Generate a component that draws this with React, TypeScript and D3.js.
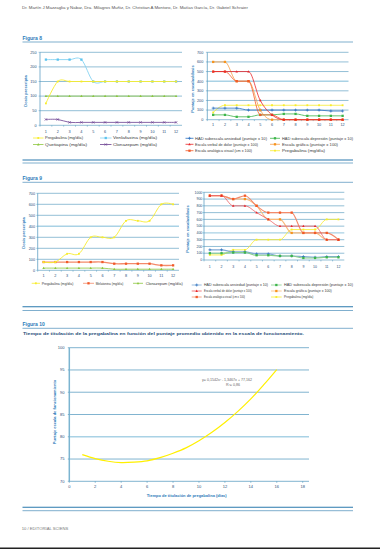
import React from 'react';
import * as d3 from 'd3';

// ---------- DATA ----------
const days = ['1', '2', '3', '4', '5', '6', '7', '8', '9', '10', '11', '12'];

// Figura 8 (left) - dosis prescripta
const f8DoseTicks = [0, 50, 100, 150, 200, 250];
const f8Pregabalina = [75, 150, 150, 150, 150, 150, 150, 150, 150, 150, 150, 150];
const f8Venlafaxina = [225, 225, 225, 225, 150, 150, 150, 150, 150, 150, 150, 150];
const f8Quetiapina = [100, 100, 100, 100, 100, 100, 100, 100, 100, 100, 100, 100];
const f8Clonazepam = [20, 20, 10, 10, 10, 10, 10, 10, 10, 10, 10, 10];

// Figura 8 (right) - puntaje en escalas/dosis
const f8ScoreTicks = [0, 100, 200, 300, 400, 500, 600, 700];
const f8HadAnsiedad = [120, 120, 120, 100, 100, 100, 100, 100, 100, 100, 90, 90];
const f8HadDepresion = [50, 50, 30, 30, 50, 50, 60, 60, 40, 40, 40, 40];
const f8EscalaVerbal = [500, 500, 500, 500, 200, 50, 0, 0, 0, 0, 0, 0];
const f8EscalaGrafica = [600, 600, 400, 400, 100, 0, 0, 0, 0, 0, 0, 0];
const f8EscalaAnalogica = [500, 500, 400, 400, 50, 50, 0, 0, 0, 0, 0, 0];
const f8PregabalinaScore = [75, 150, 150, 150, 150, 150, 150, 150, 150, 150, 150, 150];

// Figura 9 (left)
const f9DoseTicks = [0, 100, 200, 300, 400, 500, 600, 700];
const f9Pregabalina = [75, 75, 150, 150, 300, 300, 300, 450, 450, 450, 600, 600];
const f9Melatonina = [75, 75, 75, 75, 75, 75, 60, 60, 60, 60, 45, 45];
const f9Clonazepam = [20, 20, 20, 20, 20, 20, 10, 10, 10, 10, 10, 10];

// Figura 9 (right)
const f9ScoreTicks = [0, 100, 200, 300, 400, 500, 600, 700, 800, 900, 1000];
const f9HadAnsiedad = [150, 150, 120, 120, 90, 90, 60, 60, 50, 40, 50, 50];
const f9HadDepresion = [100, 100, 110, 110, 70, 70, 60, 60, 30, 30, 40, 40];
const f9EscalaVerbal = [950, 950, 800, 800, 700, 600, 500, 500, 500, 500, 300, 300];
const f9EscalaGrafica = [950, 950, 900, 900, 800, 600, 600, 400, 400, 400, 300, 300];
const f9EscalaAnalogica = [950, 950, 900, 950, 800, 700, 700, 700, 400, 400, 400, 300];
const f9PregabalinaScore = [75, 75, 150, 150, 300, 300, 300, 450, 450, 450, 600, 600];

// Figura 10
const f10Days = [1, 2, 3, 4, 5, 6, 7, 8, 9, 10, 11, 12, 13, 14, 15, 16];
const f10Score = [76.0, 75.1, 74.5, 74.2, 74.3, 74.6, 75.3, 76.3, 77.5, 79.1, 81.0, 83.2, 85.7, 88.5, 91.7, 95.1];
const f10XTicks = [0, 2, 4, 6, 8, 10, 12, 14, 16, 18];
const f10YTicks = [70, 75, 80, 85, 90, 95, 100];

// ---------- STYLE ----------
const FONT = "'Liberation Sans', Arial, sans-serif";
const GRID = '#4a93bb';
const LIGHT = '#a9d2e5';
const TXT = '#1f4e79';
const BLUE = '#2b7bb9';

const C = {
  yellow: '#f7ec2c',
  lightBlue: '#86d3f2',
  lightBlueMk: '#5cc3ee',
  quet: '#8dc63f',
  purple: '#6a3d8f',
  blue: '#2a6fbf',
  green: '#3db54a',
  red: '#e8262a',
  orange: '#f7a04a',
  orangeMk: '#f7941d',
  redOrange: '#f15a29',
  redOrangeLine: '#f48a6a',
};

type Kind = 'plus' | 'square' | 'triangle' | 'x' | 'dot';
type Series = { name: string; values: number[]; line: string; mark: string; kind: Kind; lw?: number };

function markerPath(kind: Kind, s: number) {
  switch (kind) {
    case 'square': return `M${-s},${-s}h${2 * s}v${2 * s}h${-2 * s}z`;
    case 'triangle': return `M0,${-s * 1.2}L${s * 1.1},${s * 0.8}L${-s * 1.1},${s * 0.8}z`;
    case 'plus': return `M${-s * 1.3},0H${s * 1.3}M0,${-s * 1.3}V${s * 1.3}`;
    case 'x': return `M${-s},${-s}L${s},${s}M${-s},${s}L${s},${-s}`;
    default: return `M${-s * 0.8},${-s * 0.8}h${1.6 * s}v${1.6 * s}h${-1.6 * s}z`;
  }
}

function Marker({ kind, x, y, color }: { kind: Kind; x: number; y: number; color: string }) {
  const stroked = kind === 'plus' || kind === 'x';
  return (
    <path
      d={markerPath(kind, 1.15)}
      transform={`translate(${x},${y})`}
      fill={stroked ? 'none' : color}
      stroke={stroked ? color : 'none'}
      strokeWidth={stroked ? 0.7 : 0}
    />
  );
}

type Box = { x0: number; x1: number; yb: number; yt: number };

function LineChart(props: {
  box: Box; ticks: number[]; series: Series[]; labelRight: number; xLabelY: number;
  title: string; titleX: number; titleCy: number; highlight?: number; fs?: number; curve?: d3.CurveFactory;
}) {
  const { box, ticks, series, labelRight, xLabelY, title, titleX, titleCy, highlight } = props;
  const fs = props.fs ?? 3.8;
  const y = d3.scaleLinear().domain([ticks[0], ticks[ticks.length - 1]]).range([box.yb, box.yt]);
  const x = d3.scaleBand().domain(days).range([box.x0, box.x1]);
  const cx = (d: string) => (x(d) as number) + x.bandwidth() / 2;
  const line = d3.line<number>().x((_, i) => cx(days[i])).y((v) => y(v))
    .curve(props.curve ?? d3.curveCatmullRom.alpha(0));
  return (
    <g>
      {ticks.slice(1).map((t) => (
        <line key={t} x1={box.x0} x2={box.x1} y1={y(t)} y2={y(t)}
          stroke={t === highlight ? LIGHT : GRID} strokeWidth={t === highlight ? 1.4 : 0.6} />
      ))}
      <line x1={box.x0} x2={box.x1} y1={y(ticks[0])} y2={y(ticks[0])} stroke={GRID} strokeWidth={0.6} />
      {days.map((d) => (
        <line key={d} x1={x(d) as number} x2={x(d) as number} y1={box.yb} y2={box.yb + 1.4} stroke={GRID} strokeWidth={0.5} />
      ))}
      <line x1={box.x0} x2={box.x0} y1={box.yt} y2={box.yb} stroke={GRID} strokeWidth={0.7} />
      {ticks.map((t) => (
        <g key={t}>
          <line x1={box.x0 - 1.4} x2={box.x0} y1={y(t)} y2={y(t)} stroke={GRID} strokeWidth={0.5} />
          <text x={labelRight} y={y(t)} dy="0.35em" textAnchor="end" fontSize={fs} fill={TXT} fontFamily={FONT}>{t}</text>
        </g>
      ))}
      {days.map((d) => (
        <text key={d} x={cx(d)} y={xLabelY} dy="0.35em" textAnchor="middle" fontSize={fs} fill={TXT} fontFamily={FONT}>{d}</text>
      ))}
      <text transform={`translate(${titleX},${titleCy}) rotate(-90)`} textAnchor="middle" dy="0.35em"
        fontSize={4} fontWeight="bold" fill={BLUE} fontFamily={FONT}>{title}</text>
      {series.map((s) => (
        <g key={s.name}>
          <path d={line(s.values) as string} fill="none" stroke={s.line} strokeWidth={s.lw ?? 0.8} />
          {s.values.map((v, i) => <Marker key={i} kind={s.kind} x={cx(days[i])} y={y(v)} color={s.mark} />)}
        </g>
      ))}
    </g>
  );
}

type LegendItem = { s: Series; lx: number; lw: number; y: number; tx: number; tl: number };
function Legend({ items, fs }: { items: LegendItem[]; fs: number }) {
  return (
    <g>
      {items.map((it) => (
        <g key={it.s.name}>
          <line x1={it.lx} x2={it.lx + it.lw} y1={it.y} y2={it.y} stroke={it.s.line} strokeWidth={0.8} />
          <Marker kind={it.s.kind} x={it.lx + it.lw / 2} y={it.y} color={it.s.mark} />
          <text x={it.tx} y={it.y} dy="0.35em" fontSize={fs} fill="#3a3a3a" fontFamily={FONT}
            textLength={it.tl} lengthAdjust="spacingAndGlyphs">{it.s.name}</text>
        </g>
      ))}
    </g>
  );
}

export default function App() {
  // Figura 8 series
  const s8p: Series = { name: 'Pregabalina (mg/día)', values: f8Pregabalina, line: C.yellow, mark: C.yellow, kind: 'dot', lw: 0.9 };
  const s8v: Series = { name: 'Venlafaxina (mg/día)', values: f8Venlafaxina, line: C.lightBlue, mark: C.lightBlueMk, kind: 'square', lw: 0.9 };
  const s8q: Series = { name: 'Quetiapina (mg/día)', values: f8Quetiapina, line: C.quet, mark: C.quet, kind: 'triangle' };
  const s8c: Series = { name: 'Clonazepam (mg/día)', values: f8Clonazepam, line: C.purple, mark: C.purple, kind: 'x' };

  const r8a: Series = { name: 'HAD subescala ansiedad (puntaje x 10)', values: f8HadAnsiedad, line: C.blue, mark: C.blue, kind: 'plus' };
  const r8d: Series = { name: 'HAD subescala depresión (puntaje x 10)', values: f8HadDepresion, line: C.green, mark: C.green, kind: 'square' };
  const r8v: Series = { name: 'Escala verbal de dolor (puntaje x 100)', values: f8EscalaVerbal, line: C.red, mark: C.red, kind: 'triangle' };
  const r8g: Series = { name: 'Escala gráfica (puntaje x 100)', values: f8EscalaGrafica, line: C.orange, mark: C.orangeMk, kind: 'square' };
  const r8an: Series = { name: 'Escala analógica visual (cm x 100)', values: f8EscalaAnalogica, line: C.redOrange, mark: C.redOrange, kind: 'square' };
  const r8p: Series = { name: 'Pregabalina (mg/día)', values: f8PregabalinaScore, line: C.yellow, mark: C.yellow, kind: 'dot' };

  // Figura 9 series
  const s9p: Series = { name: 'Pregabalina (mg/día)', values: f9Pregabalina, line: C.yellow, mark: C.yellow, kind: 'dot', lw: 0.9 };
  const s9m: Series = { name: 'Melatonina (mg/día)', values: f9Melatonina, line: C.redOrangeLine, mark: C.redOrange, kind: 'square', lw: 1.3 };
  const s9c: Series = { name: 'Clonazepam (mg/día)', values: f9Clonazepam, line: C.quet, mark: C.quet, kind: 'triangle' };

  const r9a: Series = { name: 'HAD subescala ansiedad (puntaje x 10)', values: f9HadAnsiedad, line: '#7fa9d6', mark: C.blue, kind: 'plus', lw: 1.1 };
  const r9d: Series = { name: 'HAD subescala depresión (puntaje x 10)', values: f9HadDepresion, line: '#86cf8c', mark: C.green, kind: 'square', lw: 1.1 };
  const r9v: Series = { name: 'Escala verbal de dolor (puntaje x 100)', values: f9EscalaVerbal, line: '#ec5b5e', mark: C.red, kind: 'triangle' };
  const r9g: Series = { name: 'Escala gráfica (puntaje x 100)', values: f9EscalaGrafica, line: '#f9bb7c', mark: C.orangeMk, kind: 'square', lw: 1.1 };
  const r9an: Series = { name: 'Escala analógica visual (cm x 100)', values: f9EscalaAnalogica, line: C.redOrangeLine, mark: C.redOrange, kind: 'square', lw: 1.1 };
  const r9p: Series = { name: 'Pregabalina (mg/día)', values: f9PregabalinaScore, line: C.yellow, mark: C.yellow, kind: 'dot' };

  // Figura 10 scales
  const fx = d3.scaleLinear().domain([0, 18]).range([69.3, 302.7]);
  const fy = d3.scaleLinear().domain([70, 100]).range([481.3, 347.7]);
  const fLine = d3.line<number>().x((_, i) => fx(f10Days[i])).y((v) => fy(v)).curve(d3.curveCatmullRom);
  const gridRight = 309;

  const rule = (y: number, w: number, x1 = 22.5, x2 = 353) => (
    <line x1={x1} x2={x2} y1={y} y2={y} stroke="#2a78ad" strokeWidth={w} />
  );

  return (
    <svg width={380} height={549} style={{ position: 'absolute', left: 0, top: 0, background: '#fff' }} fontFamily={FONT}>
      <rect width={380} height={549} fill="#fff" />
      <text x={22} y={9.3} fontSize={3.6} fill="#555" textLength={226} lengthAdjust="spacingAndGlyphs">
        Dr. Martín J Mazzaglia y Nabar, Dra. Milagros Muñiz, Dr. Christian A Montoro, Dr. Matías García, Dr. Gabriel Schraier
      </text>

      {/* Figura 8 */}
      <text x={22.5} y={40} fontSize={5} fontWeight="bold" fill={BLUE}>Figura 8</text>
      {rule(42, 0.6)}
      <LineChart box={{ x0: 40, x1: 182, yb: 125.3, yt: 52.3 }} ticks={f8DoseTicks}
        series={[s8q, s8c, s8v, s8p]} labelRight={36.5} xLabelY={131.7}
        title="Dosis prescripta" titleX={25.7} titleCy={91} />
      <Legend fs={3.8} items={[
        { s: s8p, lx: 33, lw: 10.5, y: 138, tx: 45, tl: 38 },
        { s: s8v, lx: 100, lw: 11.5, y: 138, tx: 113, tl: 44 },
        { s: s8q, lx: 33, lw: 10.5, y: 144.5, tx: 45, tl: 42 },
        { s: s8c, lx: 100, lw: 11.5, y: 144.5, tx: 113, tl: 44 },
      ]} />
      <LineChart box={{ x0: 207.3, x1: 348.5, yb: 119.7, yt: 52.3 }} ticks={f8ScoreTicks}
        series={[r8p, r8a, r8d, r8g, r8an, r8v]} labelRight={203.3} xLabelY={124.3} highlight={400}
        curve={d3.curveMonotoneX}
        title="Puntaje en escalas/dosis" titleX={192.3} titleCy={89} />
      <Legend fs={3.6} items={[
        { s: r8a, lx: 185.5, lw: 8, y: 138.3, tx: 195, tl: 72 },
        { s: r8d, lx: 270, lw: 10, y: 138.3, tx: 282, tl: 71 },
        { s: r8v, lx: 185.5, lw: 8, y: 144.3, tx: 195, tl: 63 },
        { s: r8g, lx: 270, lw: 10, y: 144.3, tx: 282, tl: 56 },
        { s: r8an, lx: 185.5, lw: 8, y: 150.7, tx: 195, tl: 57 },
        { s: r8p, lx: 270, lw: 10, y: 150.7, tx: 282, tl: 43 },
      ]} />
      {rule(160, 1.1)}
      {rule(163, 0.6)}

      {/* Figura 9 */}
      <text x={22.5} y={179.5} fontSize={5} fontWeight="bold" fill={BLUE}>Figura 9</text>
      {rule(182.3, 0.6)}
      <LineChart box={{ x0: 37.7, x1: 179, yb: 270.3, yt: 193.3 }} ticks={f9DoseTicks}
        series={[s9c, s9m, s9p]} labelRight={35} xLabelY={275.7} highlight={400}
        title="Dosis prescripta" titleX={24} titleCy={233} />
      <Legend fs={3.5} items={[
        { s: s9p, lx: 31.7, lw: 8.3, y: 283.3, tx: 41.7, tl: 31.6 },
        { s: s9m, lx: 83, lw: 11, y: 283.3, tx: 95.7, tl: 27.5 },
        { s: s9c, lx: 133, lw: 10, y: 283.3, tx: 145.7, tl: 37 },
      ]} />
      <LineChart box={{ x0: 204, x1: 344.3, yb: 260, yt: 192.3 }} ticks={f9ScoreTicks}
        series={[r9p, r9a, r9d, r9g, r9an, r9v]} labelRight={202.3} xLabelY={266.3} highlight={400} fs={3.5}
        curve={d3.curveMonotoneX}
        title="Puntaje en escalas/dosis" titleX={188} titleCy={229} />
      <Legend fs={3.3} items={[
        { s: r9a, lx: 191.7, lw: 10, y: 285, tx: 204, tl: 64 },
        { s: r9d, lx: 271, lw: 10.7, y: 285, tx: 284, tl: 69 },
        { s: r9v, lx: 191.7, lw: 10, y: 291, tx: 204, tl: 47.7 },
        { s: r9g, lx: 271, lw: 10.7, y: 291, tx: 284, tl: 47.7 },
        { s: r9an, lx: 191.7, lw: 10, y: 297, tx: 204, tl: 41 },
        { s: r9p, lx: 271, lw: 10.7, y: 297, tx: 284, tl: 29.3 },
      ]} />
      {rule(306.7, 1.1)}
      {rule(310.5, 0.6)}

      {/* Figura 10 */}
      <text x={22.5} y={325.5} fontSize={5} fontWeight="bold" fill={BLUE}>Figura 10</text>
      {rule(328.3, 0.6)}
      <text x={23} y={334.6} fontSize={4.4} fontWeight="bold" fill={TXT} textLength={281} lengthAdjust="spacingAndGlyphs">
        Tiempo de titulación de la pregabalina en función del puntaje promedio obtenido en la escala de funcionamiento.
      </text>
      <g>
        {f10YTicks.slice(1).map((t) => (
          <line key={t} x1={fx(0)} x2={gridRight} y1={fy(t)} y2={fy(t)}
            stroke={t === 80 ? LIGHT : GRID} strokeWidth={t === 80 ? 1.4 : 0.7} />
        ))}
        <line x1={fx(0)} x2={gridRight} y1={fy(70)} y2={fy(70)} stroke={GRID} strokeWidth={0.7} />
        <line x1={fx(0)} x2={fx(0)} y1={fy(100)} y2={fy(70)} stroke={LIGHT} strokeWidth={1.6} />
        <line x1={fx(0)} x2={fx(0)} y1={fy(100)} y2={fy(70)} stroke={GRID} strokeWidth={0.6} />
        {f10YTicks.map((t) => (
          <g key={t}>
            <line x1={fx(0) - 1.5} x2={fx(0)} y1={fy(t)} y2={fy(t)} stroke={GRID} strokeWidth={0.6} />
            <text x={64.5} y={fy(t)} dy="0.35em" textAnchor="end" fontSize={4} fill={TXT}>{t}</text>
          </g>
        ))}
        {f10XTicks.map((t) => (
          <g key={t}>
            <line x1={fx(t)} x2={fx(t)} y1={fy(70)} y2={fy(70) + 1.5} stroke={GRID} strokeWidth={0.6} />
            <text x={fx(t)} y={486.7} dy="0.35em" textAnchor="middle" fontSize={4} fill={TXT}>{t}</text>
          </g>
        ))}
        <path d={fLine(f10Score) as string} fill="none" stroke="#fff000" strokeWidth={1.2} />
        <text x={227} y={380} dy="0.35em" textAnchor="middle" fontSize={3.6} fill="#666">y= 0,1542x² - 1,3467x + 77,162</text>
        <text x={233} y={385.2} dy="0.35em" textAnchor="middle" fontSize={3.6} fill="#666">R²= 0,86</text>
        <text x={186.7} y={495.7} dy="0.35em" textAnchor="middle" fontSize={4} fontWeight="bold" fill={BLUE}>
          Tiempo de titulación de pregabalina (días)
        </text>
        <text transform={`translate(54.5,412) rotate(-90)`} textAnchor="middle" dy="0.35em" fontSize={4} fontWeight="bold" fill={BLUE}>
          Puntaje escala de funcionamiento
        </text>
      </g>
      {rule(507.3, 1.1)}
      {rule(510.7, 0.6)}

      <text x={21.7} y={530.3} fontSize={3.4} fill="#777" textLength={46.6} lengthAdjust="spacingAndGlyphs">10 / EDITORIAL SCIENS</text>
      <line x1={0} x2={380} y1={548.3} y2={548.3} stroke="#222" strokeWidth={1.6} />
    </svg>
  );
}
